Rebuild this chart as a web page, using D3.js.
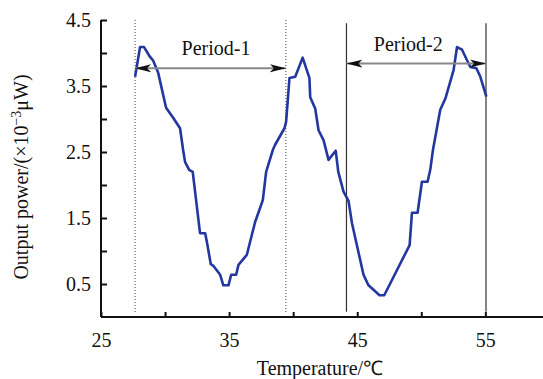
<!DOCTYPE html>
<html>
<head>
<meta charset="utf-8">
<script src="https://cdn.jsdelivr.net/npm/d3@7"></script>
</head>
<body style="margin:0;background:#fff">
<script>
// temperature (°C) and output power (x10^-3 uW)
var temps = [27.66, 28.05, 28.36, 28.83, 29.06, 29.45, 30.08, 30.63, 31.17, 31.41, 31.56, 31.88, 32.16,
  32.73, 33.13, 33.28, 33.57, 33.75, 34.30, 34.55, 34.95, 35.16, 35.55, 35.73, 36.38, 36.64, 37.03,
  37.63, 37.89, 38.41, 38.59, 39.32, 39.45, 39.71, 40.16, 40.74, 41.27, 41.33, 41.72, 41.98, 42.37,
  42.76, 43.32, 43.52, 43.93, 44.32, 44.59, 45.49, 45.88, 46.74, 47.11, 49.09, 49.27, 49.71, 50.05,
  50.49, 50.70, 50.91, 51.48, 51.88, 52.52, 52.79, 53.18, 53.57, 53.83, 54.30, 54.61, 55.08];
var power = [3.64, 4.09, 4.09, 3.94, 3.89, 3.71, 3.17, 3.02, 2.86, 2.53, 2.35, 2.23, 2.20,
  1.27, 1.27, 1.12, 0.80, 0.78, 0.64, 0.48, 0.48, 0.64, 0.64, 0.79, 0.94, 1.14, 1.44,
  1.77, 2.20, 2.53, 2.61, 2.86, 2.96, 3.62, 3.64, 3.93, 3.62, 3.33, 3.16, 2.83, 2.68,
  2.38, 2.52, 2.20, 1.90, 1.76, 1.42, 0.64, 0.48, 0.33, 0.33, 1.09, 1.58, 1.58, 2.05,
  2.05, 2.23, 2.53, 3.14, 3.31, 3.74, 4.09, 4.05, 3.89, 3.79, 3.77, 3.64, 3.34];

var xTicks = [25, 30, 35, 40, 45, 50, 55];
var xLabels = [25, 35, 45, 55];
var yTicks = [0.5, 1.0, 1.5, 2.0, 2.5, 3.0, 3.5, 4.0, 4.5];
var yLabels = [0.5, 1.5, 2.5, 3.5, 4.5];

// period markers: dotted bounds of period 1, solid bounds of period 2
var period1 = [27.66, 39.43];
var period2 = [44.16, 55.05];
var arrowLevels = [3.77, 3.84];
var periodNames = ["Period-1", "Period-2"];
var labelAt = [33.98, 48.98];

var width = 543, height = 379;
var serif = "'Liberation Serif'";

var x = d3.scaleLinear().domain([25, 59.5]).range([101, 543]);
var y = d3.scaleLinear().domain([0, 4.5]).range([317, 20]);

var svg = d3.select("body").append("svg")
    .attr("width", width)
    .attr("height", height);

var defs = svg.append("defs");
defs.append("marker")
    .attr("id", "arr")
    .attr("viewBox", "0 0 16 10")
    .attr("refX", 16)
    .attr("refY", 5)
    .attr("markerWidth", 16)
    .attr("markerHeight", 10)
    .attr("markerUnits", "userSpaceOnUse")
    .attr("orient", "auto-start-reverse")
    .append("path")
    .attr("d", "M0,1 L16,5 L0,9 L4,5 Z")
    .attr("fill", "#111");

// axes
var xAxis = d3.axisBottom(x)
    .tickValues(xTicks)
    .tickSize(-5)
    .tickFormat(function(d) { return xLabels.indexOf(d) >= 0 ? d : ""; });

var yAxis = d3.axisLeft(y)
    .tickValues(yTicks)
    .tickSize(-6)
    .tickFormat(function(d) { return yLabels.indexOf(d) >= 0 ? d3.format(".1f")(d) : ""; });

var gx = svg.append("g")
    .attr("transform", "translate(0," + y(0) + ")")
    .call(xAxis);
gx.select(".domain").attr("d", "M" + x(25) + ",0H" + width);

var gy = svg.append("g")
    .attr("transform", "translate(" + x(25) + ",0)")
    .call(yAxis);
gy.select(".domain").attr("d", "M0," + y(4.5) + "V" + y(0));

svg.selectAll(".domain").attr("stroke", "#111").attr("stroke-width", 2);
svg.selectAll(".tick line").attr("stroke", "#111").attr("stroke-width", 2);
svg.selectAll(".tick text")
    .style("font-family", serif)
    .style("font-size", "20px")
    .attr("fill", "#111");
gx.selectAll(".tick text").attr("y", 16);
gy.selectAll(".tick text").attr("x", -10);

// period bounds
svg.selectAll(".p1")
    .data(period1)
    .enter().append("line")
    .attr("x1", function(d) { return x(d); })
    .attr("x2", function(d) { return x(d); })
    .attr("y1", y(4.5))
    .attr("y2", y(0.06))
    .attr("stroke", "#444")
    .attr("stroke-width", 1)
    .attr("stroke-dasharray", "1,2");

svg.selectAll(".p2")
    .data(period2)
    .enter().append("line")
    .attr("x1", function(d) { return x(d); })
    .attr("x2", function(d) { return x(d); })
    .attr("y1", y(4.45))
    .attr("y2", y(0.08))
    .attr("stroke", "#333")
    .attr("stroke-width", 1.2);

// the curve
var pts = temps.map(function(t, i) { return [t, power[i]]; });
var line = d3.line()
    .x(function(d) { return x(d[0]); })
    .y(function(d) { return y(d[1]); });

svg.append("path")
    .datum(pts)
    .attr("d", line)
    .attr("fill", "none")
    .attr("stroke", "#2337a0")
    .attr("stroke-width", 2.6)
    .attr("stroke-linejoin", "round");

// period arrows
[period1, period2].forEach(function(p, i) {
  svg.append("line")
      .attr("x1", x(p[0]))
      .attr("x2", x(p[1]))
      .attr("y1", y(arrowLevels[i]))
      .attr("y2", y(arrowLevels[i]))
      .attr("stroke", "#888")
      .attr("stroke-width", 2)
      .attr("marker-start", "url(#arr)")
      .attr("marker-end", "url(#arr)");

  svg.append("text")
      .attr("x", x(labelAt[i]))
      .attr("y", y(arrowLevels[i]) - 13)
      .attr("text-anchor", "middle")
      .attr("fill", "#111")
      .style("font-family", serif)
      .style("font-size", "20px")
      .text(periodNames[i]);
});

// axis titles
svg.append("text")
    .attr("x", 320)
    .attr("y", 375)
    .attr("text-anchor", "middle")
    .attr("fill", "#111")
    .style("font-family", serif)
    .style("font-size", "20px")
    .text("Temperature/\u2103");

var yl = svg.append("text")
    .attr("transform", "translate(28,177) rotate(-90)")
    .attr("text-anchor", "middle")
    .attr("fill", "#111")
    .style("font-family", serif)
    .style("font-size", "20px");
yl.append("tspan").text("Output power/(\u00d710");
yl.append("tspan").attr("dy", -7).style("font-size", "14px").text("\u22123");
yl.append("tspan").attr("dy", 7).text("\u03bcW)");
</script>
</body>
</html>
